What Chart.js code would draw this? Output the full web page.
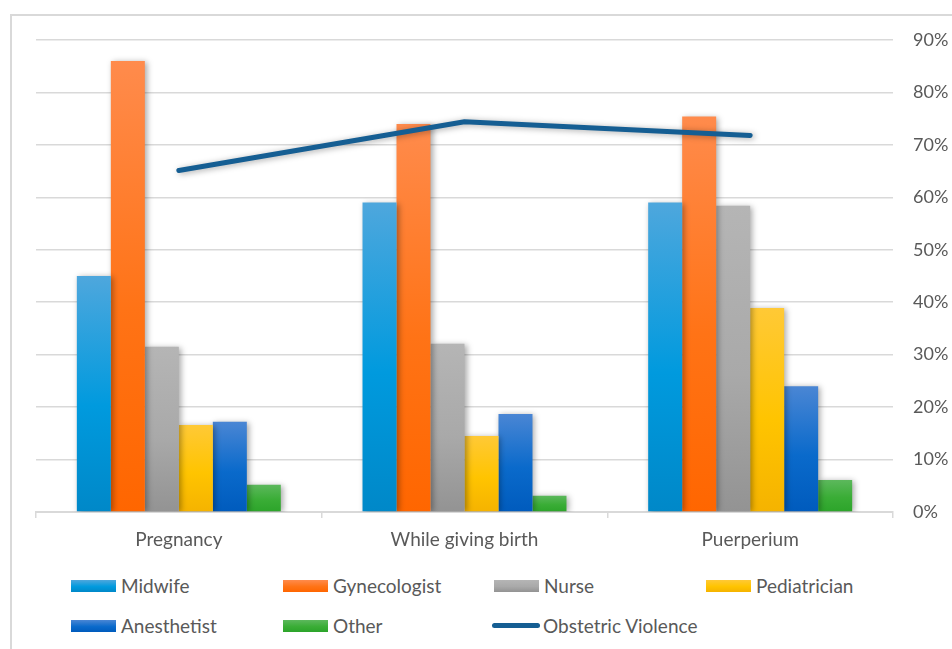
<!DOCTYPE html>
<html>
<head>
<meta charset="utf-8">
<script src="https://cdn.jsdelivr.net/npm/chart.js@4"></script>
<style>
  body { margin: 0; background: #fff; font-family: Lato, 'Open Sans', sans-serif; overflow: hidden; }
  #frame { position: absolute; left: 10px; top: 14px; width: 1000px; height: 700px; border: 2px solid #d9d9d9; }
  #wrap { position: absolute; left: 0; top: 0; width: 952px; height: 560px; }
  #legend { position: absolute; left: 0; top: 574px; width: 952px; }
  .item { position: absolute; display: flex; align-items: center; font-size: 19px; color: #595959; white-space: nowrap; }
  .sw { width: 45px; height: 12px; margin-right: 5px; }
  .ln { width: 48px; height: 5px; border-radius: 3px; margin-right: 3px; }
</style>
</head>
<body>
<div id="frame"></div>
<div id="wrap"><canvas id="c" width="952" height="560"></canvas></div>
<div id="legend"></div>
<script>
const categories = ['Pregnancy', 'While giving birth', 'Puerperium'];
const midwife = [45, 59, 59];
const gynecologist = [86, 74, 75.4];
const nurse = [31.5, 32.1, 58.4];
const pediatrician = [16.6, 14.5, 38.9];
const anesthetist = [17.2, 18.7, 24];
const other = [5.2, 3.1, 6.1];
const obstetricViolence = [65.1, 74.4, 71.8];
const yTicks = [0, 10, 20, 30, 40, 50, 60, 70, 80, 90];

// top, middle, bottom colours of each bar gradient
const barSeries = [
  { label: 'Midwife', data: midwife, colors: ['#4ea7dd', '#009ade', '#0088c8'] },
  { label: 'Gynecologist', data: gynecologist, colors: ['#ff8b4c', '#ff7316', '#ff6600'] },
  { label: 'Nurse', data: nurse, colors: ['#b5b5b5', '#a9a9a9', '#939393'] },
  { label: 'Pediatrician', data: pediatrician, colors: ['#ffc936', '#ffc400', '#f5b300'] },
  { label: 'Anesthetist', data: anesthetist, colors: ['#4a86d4', '#0a6acb', '#005bbd'] },
  { label: 'Other', data: other, colors: ['#5cb85c', '#3aad36', '#2ca42a'] },
];
const lineColor = '#155e93';

function barGradient(colors) {
  return ctx => {
    const chart = ctx.chart;
    const y = chart.scales.y;
    if (!chart.chartArea || !y || ctx.parsed == null) return colors[1];
    const top = y.getPixelForValue(ctx.parsed.y);
    const bottom = y.getPixelForValue(0);
    if (!isFinite(top) || bottom - top < 1) return colors[1];
    const g = chart.ctx.createLinearGradient(0, top, 0, bottom);
    g.addColorStop(0, colors[0]);
    g.addColorStop(0.55, colors[1]);
    g.addColorStop(1, colors[2]);
    return g;
  };
}

const shadow = {
  id: 'shadow',
  beforeDatasetDraw(chart) {
    const c = chart.ctx;
    c.save();
    c.shadowColor = 'rgba(0,0,0,0.35)';
    c.shadowBlur = 6;
    c.shadowOffsetX = 2;
    c.shadowOffsetY = 1;
  },
  afterDatasetDraw(chart) { chart.ctx.restore(); },
};

const datasets = barSeries.map(s => ({
  type: 'bar',
  label: s.label,
  data: s.data,
  backgroundColor: barGradient(s.colors),
  borderWidth: 0,
  order: 1,
}));
datasets.push({
  type: 'line',
  label: 'Obstetric Violence',
  data: obstetricViolence,
  borderColor: lineColor,
  borderWidth: 5,
  borderCapStyle: 'round',
  borderJoinStyle: 'round',
  pointRadius: 0,
  tension: 0,
  order: 0,
});

new Chart(document.getElementById('c'), {
  type: 'bar',
  data: { labels: categories, datasets },
  plugins: [shadow],
  options: {
    responsive: false,
    animation: false,
    layout: { padding: { left: 36, top: 40, right: 0, bottom: 0 } },
    datasets: { bar: { barPercentage: 1, categoryPercentage: 0.714 } },
    plugins: { legend: { display: false }, tooltip: { enabled: false } },
    scales: {
      x: {
        grid: { offset: true, drawOnChartArea: false, drawTicks: true, tickLength: 6, color: '#d9d9d9', lineWidth: 1.5 },
        border: { display: true, color: '#d9d9d9', width: 2 },
        ticks: { color: '#595959', font: { family: 'Lato', size: 19 }, padding: 10 },
        afterFit: s => { s.height = 48; },
      },
      y: {
        position: 'right',
        min: 0,
        max: 90,
        afterBuildTicks: s => { s.ticks = yTicks.map(v => ({ value: v })); },
        grid: { color: '#d9d9d9', lineWidth: 1.5, drawTicks: false },
        border: { display: false },
        ticks: { color: '#595959', font: { family: 'Lato', size: 18 }, padding: 20, callback: v => v + '%' },
        afterFit: s => { s.width = 59; },
      },
    },
  },
});

// legend laid out in four fixed columns like the original
const legend = document.getElementById('legend');
const cols = [71, 283, 494, 706];
const entries = barSeries.map(s => ({ label: s.label, colors: s.colors }));
entries.push({ label: 'Obstetric Violence', line: true });
entries.forEach((e, i) => {
  const el = document.createElement('div');
  el.className = 'item';
  const row = i < 4 ? 0 : 1;
  const col = i < 4 ? i : i - 4;
  el.style.left = (e.line ? cols[col] - 2 : cols[col]) + 'px';
  el.style.top = (row * 40) + 'px';
  const sw = document.createElement('span');
  if (e.line) {
    sw.className = 'ln';
    sw.style.background = lineColor;
  } else {
    sw.className = 'sw';
    sw.style.background = 'linear-gradient(' + e.colors[0] + ',' + e.colors[1] + ' 55%,' + e.colors[2] + ')';
  }
  el.appendChild(sw);
  el.appendChild(document.createTextNode(e.label));
  legend.appendChild(el);
});
</script>
</body>
</html>
